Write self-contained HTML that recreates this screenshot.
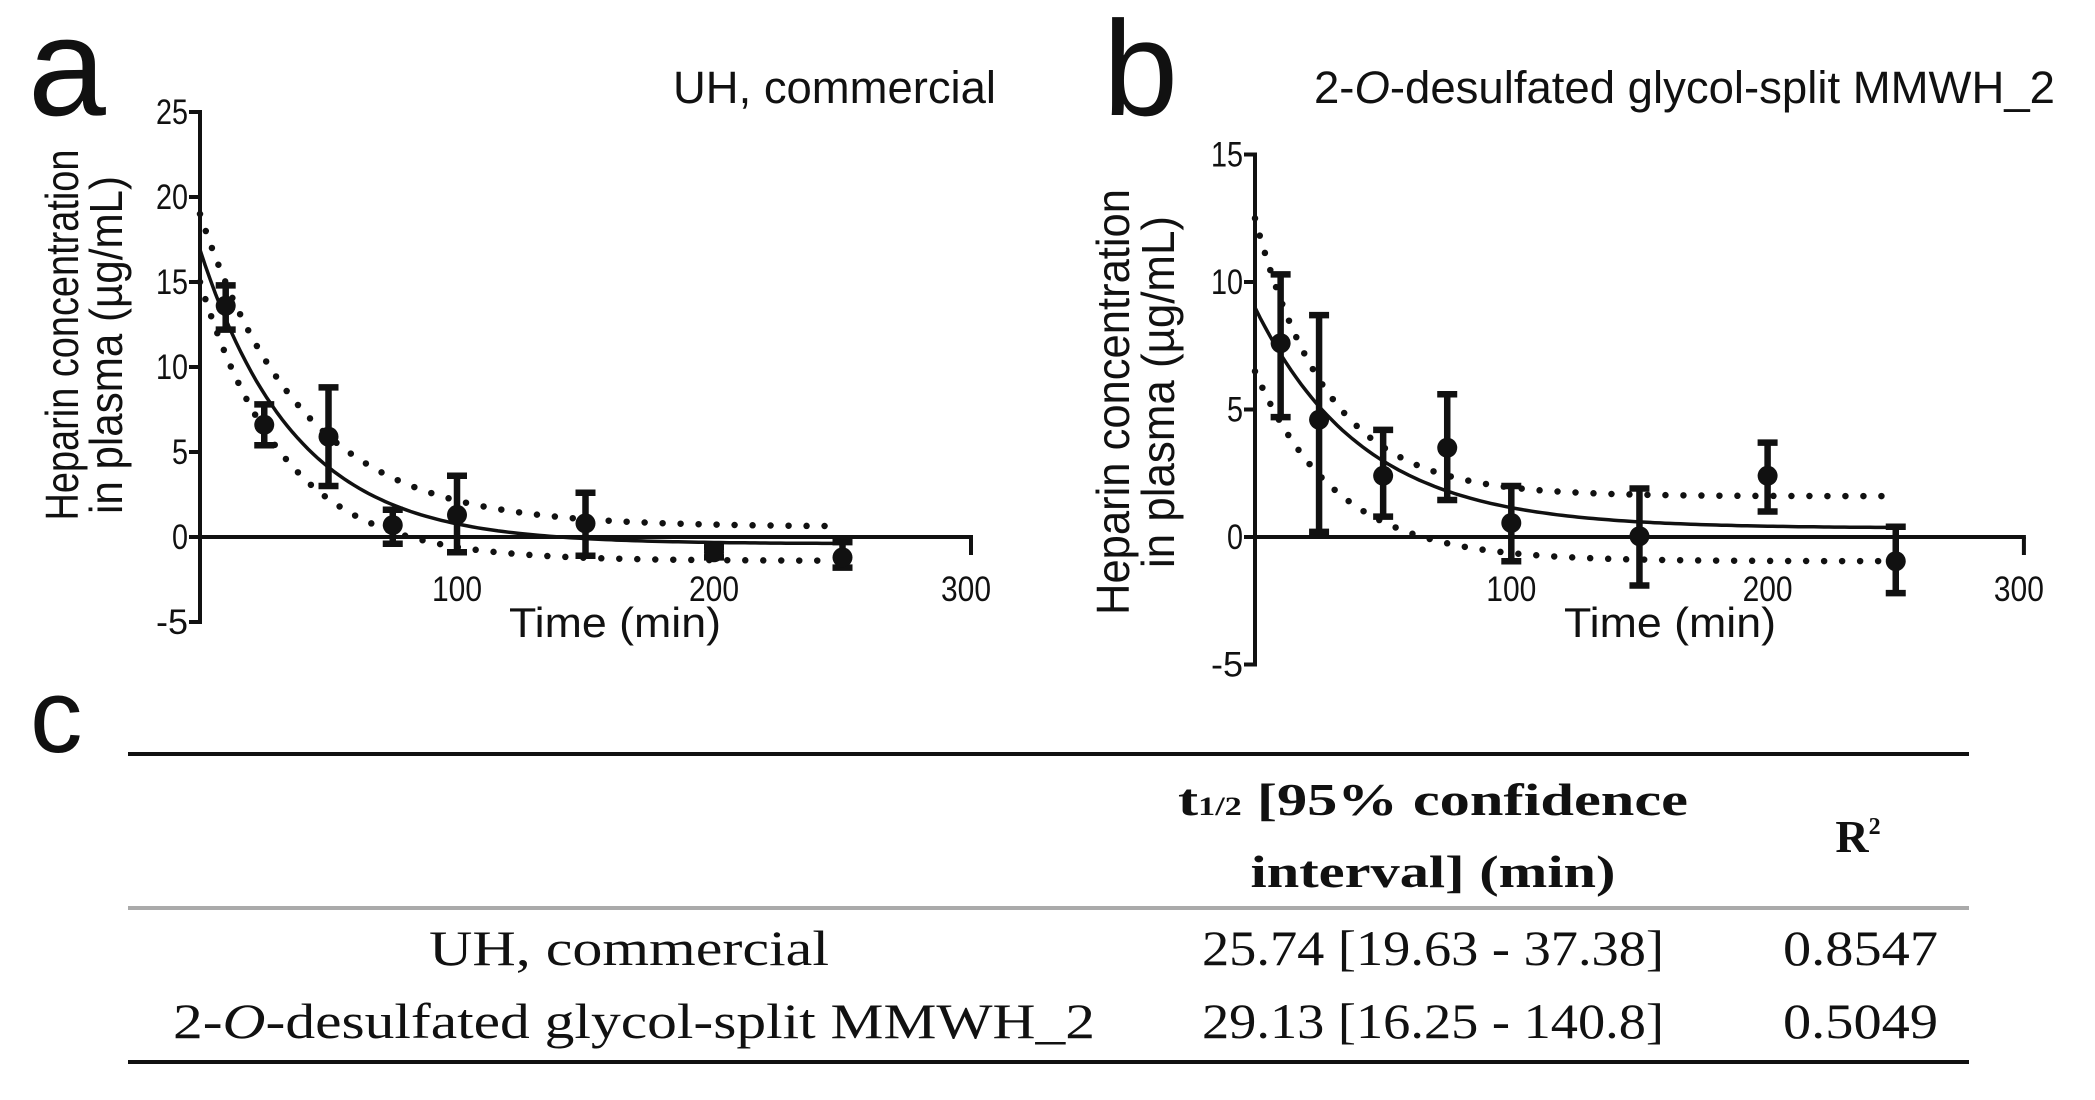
<!DOCTYPE html>
<html><head><meta charset="utf-8"><style>
html,body{margin:0;padding:0;background:#fff;}
svg{display:block;}
.tk{font-family:"Liberation Sans",sans-serif;font-size:35px;fill:#111;}
.ttl{font-family:"Liberation Sans",sans-serif;fill:#111;}
.ser{font-family:"Liberation Serif",serif;fill:#111;}
</style></head><body>
<svg id="fig" width="2095" height="1100" viewBox="0 0 2095 1100" xmlns="http://www.w3.org/2000/svg">
<text x="28" y="115" class="ttl" font-size="140">a</text>
<text x="1103" y="115" class="ttl" font-size="135">b</text>
<text x="996" y="103" class="ttl" font-size="45" text-anchor="end" textLength="323" lengthAdjust="spacingAndGlyphs">UH, commercial</text>
<text x="2055" y="103" class="ttl" font-size="45" text-anchor="end" textLength="741" lengthAdjust="spacingAndGlyphs">2-<tspan font-style="italic">O</tspan>-desulfated glycol-split MMWH_2</text>
<g id="panelA"></g>
<g id="panelB"></g>
<g id="tableC">
  <text x="30" y="752" class="ttl" font-size="105">c</text>
  <rect x="128" y="752" width="1841" height="4" fill="#111"/>
  <text x="1433" y="815" class="ser" font-size="46" font-weight="bold" text-anchor="middle" textLength="510" lengthAdjust="spacingAndGlyphs">t<tspan font-size="26">1/2</tspan> [95% confidence</text>
  <text x="1433" y="887" class="ser" font-size="46" font-weight="bold" text-anchor="middle" textLength="365" lengthAdjust="spacingAndGlyphs">interval] (min)</text>
  <text x="1858" y="852" class="ser" font-size="46" font-weight="bold" text-anchor="middle">R<tspan font-size="24" dy="-18">2</tspan></text>
  <rect x="128" y="906" width="1841" height="4" fill="#aaa"/>
  <text x="629" y="965" class="ser" font-size="50" text-anchor="middle" textLength="400" lengthAdjust="spacingAndGlyphs">UH, commercial</text>
  <text x="1433" y="965" class="ser" font-size="50" text-anchor="middle" textLength="462" lengthAdjust="spacingAndGlyphs">25.74 [19.63 - 37.38]</text>
  <text x="1938" y="965" class="ser" font-size="50" text-anchor="end" textLength="155" lengthAdjust="spacingAndGlyphs">0.8547</text>
  <text x="634" y="1038" class="ser" font-size="50" text-anchor="middle" textLength="922" lengthAdjust="spacingAndGlyphs">2-<tspan font-style="italic">O</tspan>-desulfated glycol-split MMWH_2</text>
  <text x="1433" y="1038" class="ser" font-size="50" text-anchor="middle" textLength="462" lengthAdjust="spacingAndGlyphs">29.13 [16.25 - 140.8]</text>
  <text x="1938" y="1038" class="ser" font-size="50" text-anchor="end" textLength="155" lengthAdjust="spacingAndGlyphs">0.5049</text>
  <rect x="128" y="1060" width="1841" height="4" fill="#111"/>
</g>
</svg>
<script>
// ---- data ----
const timesA = [10, 25, 50, 75, 100, 150, 200, 250];
const meanA  = [13.6, 6.6, 5.9, 0.7, 1.3, 0.8, -0.9, -1.2];
const hiA    = [14.8, 7.8, 8.8, 1.6, 3.6, 2.6, -0.6, -0.3];
const loA    = [12.2, 5.4, 3.0, -0.4, -0.9, -1.1, -1.2, -1.8];
const fitA   = [16.9, -0.4, 25.74];   // y0, plateau, half-life
const bandUpA = [19.0, 0.6, 28];
const bandLoA = [15.0, -1.4, 23];
const yTicksA = [-5, 0, 5, 10, 15, 20, 25];

const timesB = [10, 25, 50, 75, 100, 150, 200, 250];
const meanB  = [7.6, 4.6, 2.4, 3.5, 0.55, 0.03, 2.4, -0.95];
const hiB    = [10.3, 8.7, 4.2, 5.6, 2.0, 1.9, 3.7, 0.4];
const loB    = [4.7, 0.2, 0.8, 1.45, -0.95, -1.9, 1.0, -2.2];
const fitB   = [9.0, 0.35, 29.13];
const bandUpB = [12.5, 1.6, 20];
const bandLoB = [6.5, -0.95, 22];
const yTicksB = [-5, 0, 5, 10, 15];
const xTicks = [100, 200, 300];

const NS = 'http://www.w3.org/2000/svg';
function mk(parent, tag, attrs) {
  const e = document.createElementNS(NS, tag);
  for (const k in attrs) e.setAttribute(k, attrs[k]);
  parent.appendChild(e);
  return e;
}
function expFit(p, t) { return p[1] + (p[0] - p[1]) * Math.exp(-Math.LN2 / p[2] * t); }

function drawPanel(g, c) {
  const X = t => c.x0 + t * c.xs;
  const Y = v => c.y0 - v * c.ys;
  let e = mk(g, 'line', {x1: X(0), x2: X(0), y1: Y(c.ymax) - 2, y2: Y(c.ymin) + 2, stroke: '#111', 'stroke-width': 4});
  
  
  c.yTicks.forEach(v => {
    const t = mk(g, 'line', {x1: X(0) - 11, x2: X(0), y1: Y(v), y2: Y(v), stroke: '#111', 'stroke-width': 4});
    
    
    const l = mk(g, 'text', {x: X(0) - 12, y: Y(v) + 12, class: 'tk', 'text-anchor': 'end', textLength: (String(v).length * 16), lengthAdjust: 'spacingAndGlyphs'});
    
    
    l.textContent = v;
  });
  e = mk(g, 'line', {x1: X(0), x2: X(300) + 2, y1: Y(0), y2: Y(0), stroke: '#111', 'stroke-width': 4});
  
  
  e = mk(g, 'line', {x1: X(300), x2: X(300), y1: Y(0), y2: Y(0) + 18, stroke: '#111', 'stroke-width': 4});
  
  
  xTicks.forEach(v => {
    const l = mk(g, 'text', {x: X(v) + (v === 300 ? -5 : 0), y: 601, class: 'tk', 'text-anchor': 'middle', textLength: 50, lengthAdjust: 'spacingAndGlyphs'});
    
    
    l.textContent = v;
  });
  let tt = mk(g, 'text', {x: c.xt, y: 637, class: 'ttl', 'font-size': 42, 'text-anchor': 'middle', textLength: 212, lengthAdjust: 'spacingAndGlyphs'});
  
  
  tt.textContent = 'Time (min)';
  tt = mk(g, 'text', {x: 0, y: 0, class: 'ttl', 'font-size': 46, 'text-anchor': 'middle', textLength: c.l1[2], lengthAdjust: 'spacingAndGlyphs', transform: `translate(${c.l1[0] + 16},${c.l1[1]}) rotate(-90)`});
  
  
  tt.textContent = 'Heparin concentration';
  tt = mk(g, 'text', {x: 0, y: 0, class: 'ttl', 'font-size': 46, 'text-anchor': 'middle', textLength: c.l2[2], lengthAdjust: 'spacingAndGlyphs', transform: `translate(${c.l2[0] + 16},${c.l2[1]}) rotate(-90)`});
  
  
  tt.textContent = 'in plasma (\u00b5g/mL)';
  let d = '';
  for (let t = 0; t <= 250; t += 2) d += (t ? 'L' : 'M') + X(t).toFixed(1) + ',' + Y(expFit(c.fit, t)).toFixed(1);
  e = mk(g, 'path', {d: d, fill: 'none', stroke: '#111', 'stroke-width': 3.5});
  
  
  [c.bu, c.bl].forEach((p, i) => {
    let dd = '';
    for (let t = 0; t <= 245; t += 1) dd += (t ? 'L' : 'M') + X(t).toFixed(1) + ',' + Y(expFit(p, t)).toFixed(1);
    const b = mk(g, 'path', {d: dd, fill: 'none', stroke: '#111', 'stroke-width': 6.5, 'stroke-linecap': 'round', 'stroke-dasharray': '0 18'});
    
    
  });
  c.t.forEach((t, i) => {
    const x = X(t);
    const eb = mk(g, 'path', {d: `M${x},${Y(c.hi[i])}V${Y(c.lo[i])}M${x - 10},${Y(c.hi[i])}H${x + 10}M${x - 10},${Y(c.lo[i])}H${x + 10}`, stroke: '#111', 'stroke-width': 6.5, fill: 'none'});
    
    
    const cc = mk(g, 'circle', {cx: x, cy: Y(c.m[i]), r: 10, fill: '#111'});
    
    
  });
}

drawPanel(document.getElementById('panelA'), {x0: 200, xs: 2.57, y0: 537, ys: 17.0, ymax: 25, ymin: -5, yTicks: yTicksA, t: timesA,
  m: meanA, hi: hiA, lo: loA, fit: fitA, bu: bandUpA, bl: bandLoA, xt: 615, l1: [62, 335, 371], l2: [106, 345, 338]});
drawPanel(document.getElementById('panelB'), {x0: 1255, xs: 2.563, y0: 537, ys: 25.5, ymax: 15, ymin: -5, yTicks: yTicksB, t: timesB,
  m: meanB, hi: hiB, lo: loB, fit: fitB, bu: bandUpB, bl: bandLoB, xt: 1670, l1: [1113, 402, 426], l2: [1158, 392, 352]});
</script>
</body></html>
